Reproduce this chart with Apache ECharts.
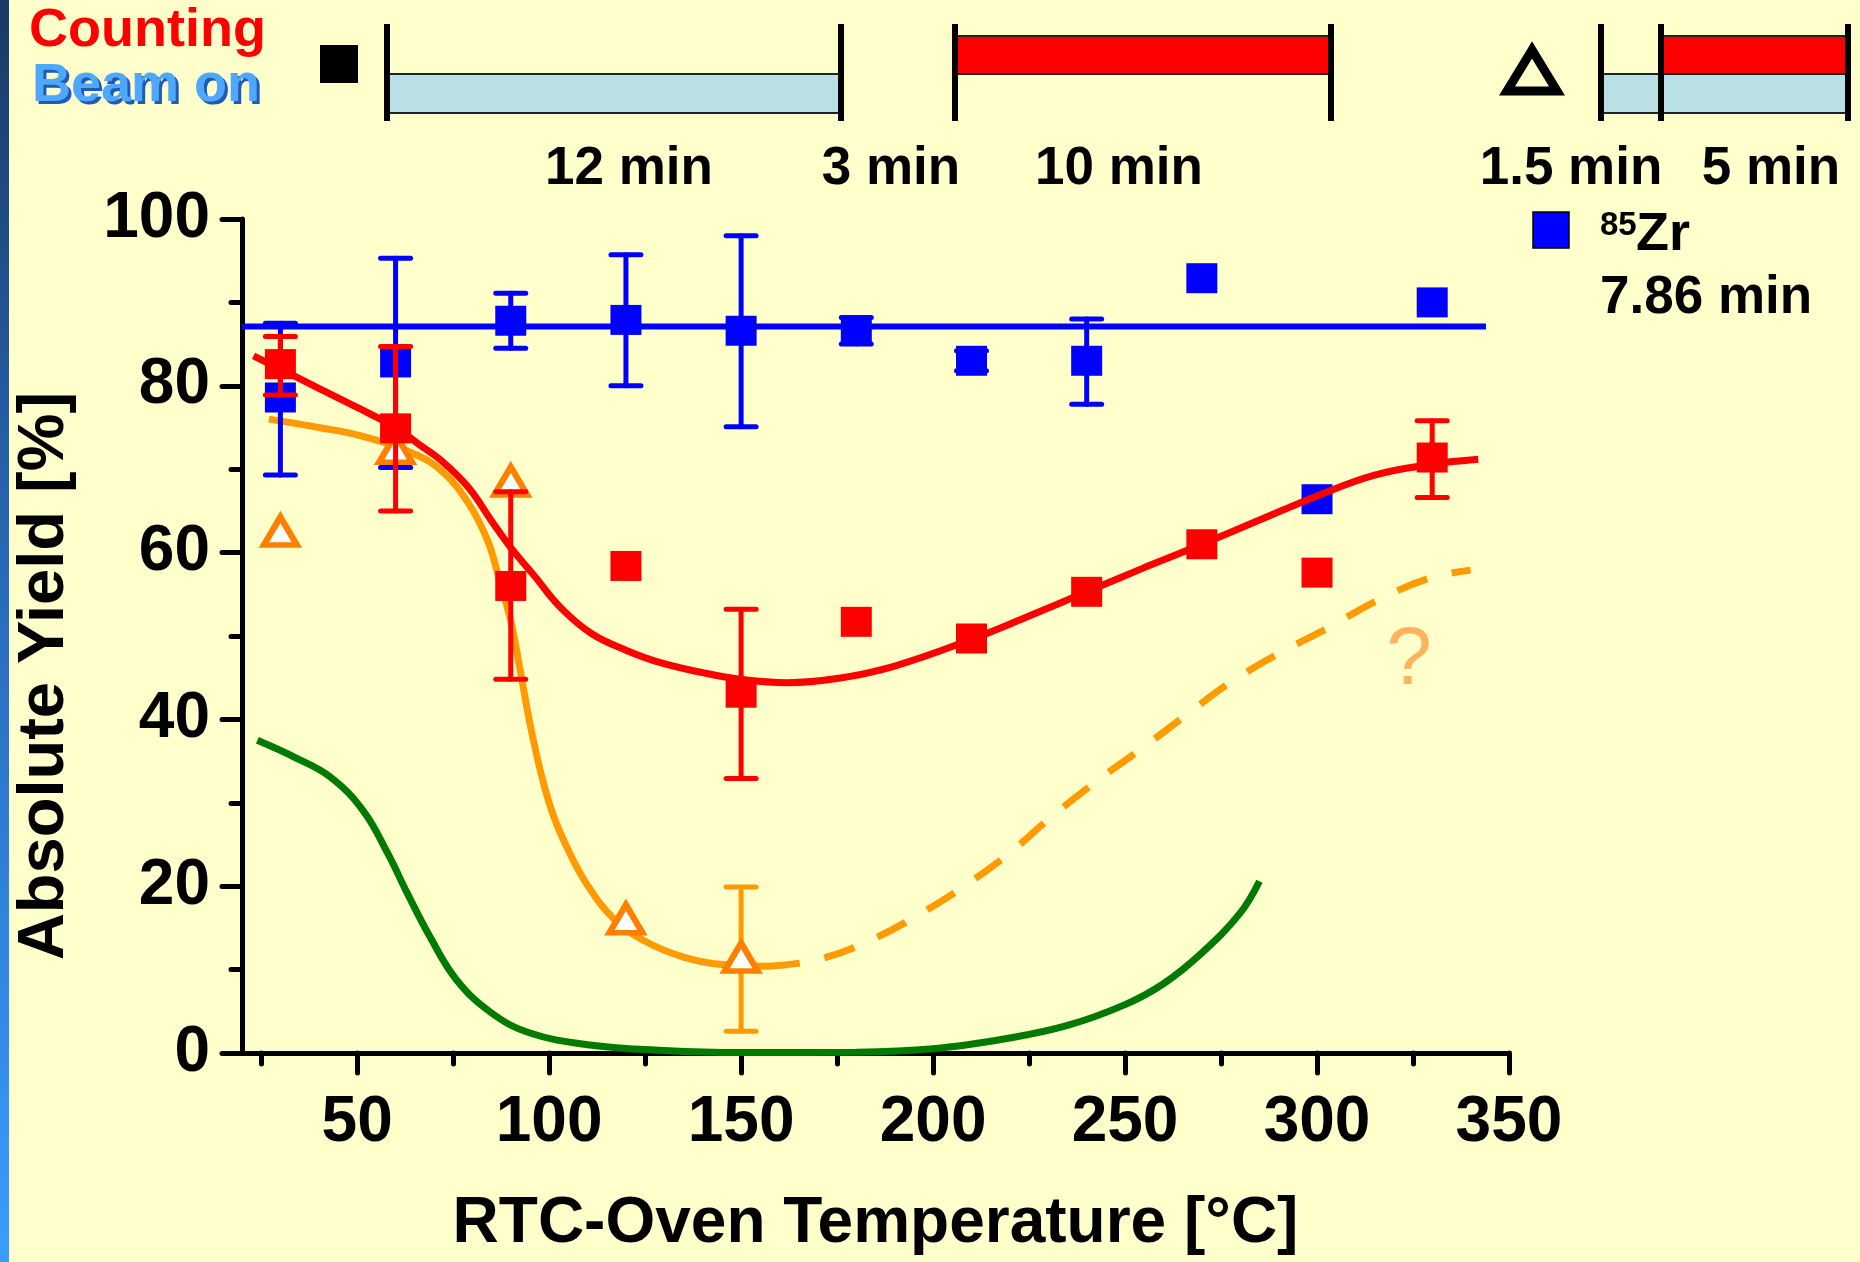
<!DOCTYPE html>
<html>
<head>
<meta charset="utf-8">
<script src="https://cdn.jsdelivr.net/npm/echarts@6/dist/echarts.min.js"></script>
<style>
html,body{margin:0;padding:0;background:#FFFFCC;}
#chart{width:1860px;height:1262px;}
</style>
</head>
<body>
<div id="chart"></div>
<script>
// ---------- data ----------
const xTickValues = [50, 100, 150, 200, 250, 300, 350];
const xMinorTickValues = [25, 75, 125, 175, 225, 275, 325];

// 85Zr blue squares
const blueX = [30, 60, 90, 120, 150, 180, 210, 240, 270, 300, 330];
const blueY = [78.6, 82.8, 87.8, 87.9, 86.6, 86.6, 83.0, 83.0, 92.9, 66.4, 90.0];
const blueErrX = [30, 60, 90, 120, 150, 180, 210, 240];
const blueErrLow = [69.3, 70.2, 84.5, 80.0, 75.1, 85.0, 81.8, 77.8];
const blueErrHigh = [87.5, 95.3, 91.1, 95.7, 98.0, 88.2, 84.2, 88.0];
const blueFitX = [20, 344];
const blueFitY = [87.1, 87.1];

// red squares
const redX = [30, 60, 90, 120, 150, 180, 210, 240, 270, 300, 330];
const redY = [82.6, 74.9, 56.0, 58.4, 43.2, 51.7, 49.7, 55.3, 61.0, 57.6, 71.4];
const redErrX = [30, 60, 90, 150, 330];
const redErrLow = [78.9, 65.0, 44.8, 32.9, 66.6];
const redErrHigh = [85.9, 84.7, 67.3, 53.2, 75.8];
const redCurveX = [23, 30, 40, 50, 60, 66, 72, 79, 85, 90, 96, 103, 111, 120, 129, 140, 150, 162, 175, 190, 210, 225, 240, 255, 270, 285, 300, 315, 330, 342];
const redCurveY = [83.6, 82.0, 79.7, 77.4, 75.0, 73.0, 71.0, 67.8, 63.8, 60.6, 57.3, 53.4, 50.3, 48.3, 46.8, 45.6, 44.8, 44.4, 44.9, 46.4, 49.6, 52.4, 55.3, 58.2, 61.0, 63.9, 66.8, 69.3, 70.6, 71.2];

// orange triangles
const orangeX = [30, 60, 90, 120, 150];
const orangeY = [62.6, 72.5, 68.6, 16.1, 11.5];
const orangeErrX = [150];
const orangeErrLow = [2.6];
const orangeErrHigh = [19.9];
const orangeCurveX = [27, 40, 51, 64, 72, 79, 84, 87, 90, 92.5, 95, 98, 101, 105, 110, 117, 125, 135, 145, 157];
const orangeCurveY = [76.0, 75.0, 74.0, 72.0, 69.8, 65.9, 61.4, 56.8, 51.8, 45.8, 39.5, 33.3, 28.6, 24.3, 20.1, 16.0, 13.4, 11.5, 10.6, 10.4];
const orangeDashX = [157, 170, 185, 200, 210, 220, 230, 242, 254, 265, 277, 290, 303, 315, 329, 340];
const orangeDashY = [10.4, 11.2, 13.8, 17.6, 20.6, 24.0, 28.0, 32.4, 36.4, 40.2, 44.3, 47.9, 51.0, 54.1, 56.9, 57.9];

// green curve
const greenX = [24, 34, 43, 51.5, 58, 63, 69, 76, 85, 95, 110, 130, 150, 180, 200, 220, 235, 250, 260, 270, 280, 285];
const greenY = [37.5, 35.4, 33.1, 29.1, 23.9, 19.2, 13.9, 8.7, 4.8, 2.4, 1.0, 0.3, 0.05, 0.1, 0.5, 1.8, 3.3, 5.8, 8.3, 12.0, 16.8, 20.6];

const questionPoint = [324, 46.9];

// ---------- helpers ----------
const zip = (xs, ys) => xs.map((x, i) => [x, ys[i]]);
const zip3 = (xs, a, b) => xs.map((x, i) => [x, a[i], b[i]]);
const FONT = "'Liberation Sans', Arial, sans-serif";

function errRender(color, capHalf, lw) {
  return function (params, api) {
    const x = api.value(0), lo = api.value(1), hi = api.value(2);
    const pLo = api.coord([x, lo]);
    const pHi = api.coord([x, hi]);
    const st = { stroke: color, lineWidth: lw, lineCap: 'round' };
    return {
      type: 'group',
      children: [
        { type: 'line', shape: { x1: pLo[0], y1: pLo[1], x2: pHi[0], y2: pHi[1] }, style: st },
        { type: 'line', shape: { x1: pLo[0] - capHalf, y1: pLo[1], x2: pLo[0] + capHalf, y2: pLo[1] }, style: st },
        { type: 'line', shape: { x1: pHi[0] - capHalf, y1: pHi[1], x2: pHi[0] + capHalf, y2: pHi[1] }, style: st }
      ]
    };
  };
}

const LB = '#B9E1E5';
const tlTop = 24, tlBot = 121;
function vbar(x) {
  return { type: 'line', shape: { x1: x, y1: tlTop, x2: x, y2: tlBot }, style: { stroke: '#000', lineWidth: 6 }, z: 10 };
}
function bar(x1, x2, y1, y2, fill) {
  return { type: 'rect', shape: { x: x1, y: y1, width: x2 - x1, height: y2 - y1 }, style: { fill: fill, stroke: '#222', lineWidth: 2 }, z: 5 };
}
function txt(x, y, text, size, color, align, z) {
  return {
    type: 'text', x: x, y: y,
    style: { text: text, font: 'bold ' + size + 'px ' + FONT, fill: color || '#000', textAlign: align || 'center', textVerticalAlign: 'middle' },
    z: z || 10
  };
}

const chart = echarts.init(document.getElementById('chart'), null, { renderer: 'canvas' });

const option = {
  animation: false,
  backgroundColor: '#FFFFCC',
  grid: { left: 242, right: 351, top: 219, bottom: 209, containLabel: false },
  xAxis: [
    {
      type: 'value', min: 20, max: 350, position: 'bottom',
      name: 'RTC-Oven Temperature [°C]', nameLocation: 'middle', nameGap: 139,
      nameTextStyle: { fontSize: 64, fontWeight: 'bold', fontFamily: FONT, color: '#000' },
      axisLine: { show: true, lineStyle: { color: '#000', width: 5 } },
      axisTick: { show: true, customValues: xTickValues, length: 20, inside: false, lineStyle: { color: '#000', width: 5, cap: 'round' } },
      axisLabel: { show: true, customValues: xTickValues, margin: 38, fontSize: 64, fontWeight: 'bold', fontFamily: FONT, color: '#000' },
      splitLine: { show: false }
    },
    {
      type: 'value', min: 20, max: 350, position: 'bottom',
      axisLine: { show: false },
      axisTick: { show: true, customValues: xMinorTickValues, length: 11, lineStyle: { color: '#000', width: 5, cap: 'round' } },
      axisLabel: { show: false },
      splitLine: { show: false }
    }
  ],
  yAxis: {
    type: 'value', min: 0, max: 100, interval: 20,
    axisLine: { show: true, lineStyle: { color: '#000', width: 5 } },
    axisTick: { show: true, length: 20, lineStyle: { color: '#000', width: 5, cap: 'round' } },
    minorTick: { show: true, splitNumber: 2, length: 11, lineStyle: { color: '#000', width: 5, cap: 'round' } },
    axisLabel: { margin: 32, fontSize: 64, fontWeight: 'bold', fontFamily: FONT, color: '#000' },
    splitLine: { show: false },
    minorSplitLine: { show: false }
  },
  graphic: [
    // left blue edge
    { type: 'rect', shape: { x: 0, y: 0, width: 9, height: 1262 },
      style: { fill: new echarts.graphic.LinearGradient(0, 0, 0, 1, [{ offset: 0, color: '#1B3A66' }, { offset: 0.5, color: '#2A6FC0' }, { offset: 1, color: '#3A9CFF' }]) }, z: 1 },
    // Counting / Beam on
    txt(29, 31, 'Counting', 54, '#FF0000', 'left'),
    txt(35, 89, 'Beam on', 54, '#1F5AB5', 'left', 9),
    txt(32, 86, 'Beam on', 54, '#4FA8FF', 'left', 10),
    // black square marker
    { type: 'rect', shape: { x: 320, y: 45, width: 38, height: 38 }, style: { fill: '#000' }, z: 10 },
    // timeline 1
    bar(387, 841, 74, 113, LB),
    vbar(387), vbar(841),
    txt(629, 169, '12 min', 53),
    txt(891, 169, '3 min', 53),
    // timeline 2
    bar(955, 1331, 36, 74, '#FF0000'),
    vbar(955), vbar(1331),
    txt(1119, 169, '10 min', 53),
    // triangle marker
    { type: 'polygon', shape: { points: [[1532, 50], [1507, 91], [1557, 91]] }, style: { fill: 'none', stroke: '#000', lineWidth: 9, lineJoin: 'miter' }, z: 10 },
    // timeline 3
    bar(1601, 1848, 74, 113, LB),
    bar(1661, 1848, 36, 74, '#FF0000'),
    vbar(1601), vbar(1661), vbar(1848),
    txt(1571, 169, '1.5 min', 53),
    txt(1771, 169, '5 min', 53),
    // legend
    { type: 'rect', shape: { x: 1533, y: 212, width: 36, height: 36 }, style: { fill: '#0000FF', stroke: '#000', lineWidth: 1.5 }, z: 10 },
    txt(1600, 226, '85', 33, '#000', 'left'),
    txt(1636, 235, 'Zr', 54, '#000', 'left'),
    txt(1600, 298, '7.86 min', 53, '#000', 'left'),
    // y axis title
    { type: 'text', x: 45, y: 676, rotation: Math.PI / 2,
      style: { text: 'Absolute Yield [%]', font: 'bold 65px ' + FONT, fill: '#000', textAlign: 'center', textVerticalAlign: 'middle' }, z: 10 }
  ],
  series: [
    // green curve
    { type: 'line', data: zip(greenX, greenY), smooth: 0.4, showSymbol: false, symbol: 'none',
      lineStyle: { color: '#007A00', width: 7 }, z: 2 },
    // orange solid curve
    { type: 'line', data: zip(orangeCurveX, orangeCurveY), smooth: 0.4, showSymbol: false, symbol: 'none',
      lineStyle: { color: '#FF9A00', width: 7 }, z: 2 },
    // orange dashed curve
    { type: 'line', data: zip(orangeDashX, orangeDashY), smooth: 0.4, showSymbol: false, symbol: 'none',
      lineStyle: { color: '#FF9A00', width: 7, type: [32, 25] }, z: 2 },
    // blue fit
    { type: 'line', data: zip(blueFitX, blueFitY), showSymbol: false, symbol: 'none',
      lineStyle: { color: '#0000FF', width: 6 }, z: 3 },
    // error bars
    { type: 'custom', data: zip3(blueErrX, blueErrLow, blueErrHigh), renderItem: errRender('#0000FF', 15, 5), encode: { x: 0, y: [1, 2] }, z: 4 },
    { type: 'custom', data: zip3(orangeErrX, orangeErrLow, orangeErrHigh), renderItem: errRender('#FF9A00', 15, 5), encode: { x: 0, y: [1, 2] }, z: 4 },
    // blue squares
    { type: 'scatter', data: zip(blueX, blueY), symbol: 'rect', symbolSize: [31, 30],
      itemStyle: { color: '#0000FF', opacity: 1 }, z: 5 },
    // orange triangles
    { type: 'scatter', data: zip(orangeX, orangeY), symbol: 'triangle', symbolSize: [33, 28],
      itemStyle: { color: '#FFFFFF', borderColor: '#FF8000', borderWidth: 6, opacity: 1 }, z: 6 },
    // red curve
    { type: 'line', data: zip(redCurveX, redCurveY), smooth: 0.4, showSymbol: false, symbol: 'none',
      lineStyle: { color: '#FF0000', width: 7 }, z: 7 },
    { type: 'custom', data: zip3(redErrX, redErrLow, redErrHigh), renderItem: errRender('#FF0000', 15, 5), encode: { x: 0, y: [1, 2] }, z: 8 },
    // red squares
    { type: 'scatter', data: zip(redX, redY), symbol: 'rect', symbolSize: [31, 30],
      itemStyle: { color: '#FF0000', opacity: 1 }, z: 9 },
    // question mark annotation
    { type: 'scatter', data: [questionPoint], symbol: 'circle', symbolSize: 0, itemStyle: { color: 'rgba(0,0,0,0)' },
      label: { show: true, position: 'inside', formatter: '?', fontSize: 82, fontWeight: 'normal', fontFamily: FONT, color: '#FFA040' }, z: 9 }
  ]
};
chart.setOption(option);
</script>
</body>
</html>
